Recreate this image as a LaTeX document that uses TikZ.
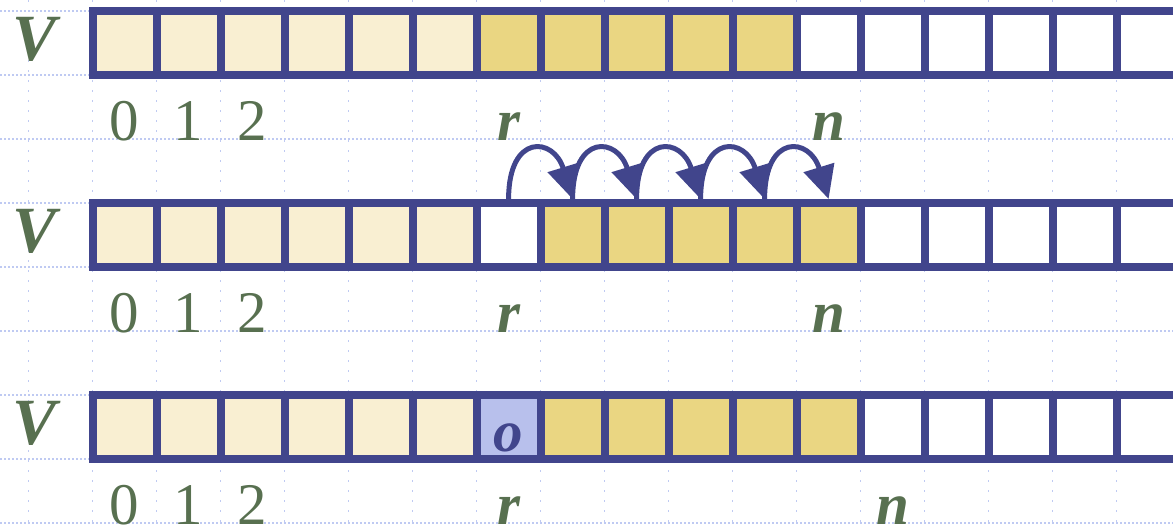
\documentclass[tikz,border=0pt]{standalone}
\usepackage{fontspec}
\setmainfont{Liberation Serif}
\usetikzlibrary{arrows.meta}
\definecolor{navy}{HTML}{41458C}
\definecolor{txtgreen}{HTML}{587050}
\definecolor{cream}{HTML}{F9EFD2}
\definecolor{gold}{HTML}{EAD682}
\definecolor{lav}{HTML}{B8C0EC}
\definecolor{gridc}{HTML}{BFCAF2}
\begin{document}
\begin{tikzpicture}[x=1pt,y=-1pt,
  cell/.style={draw=navy,line width=8pt,minimum size=64pt,inner sep=0pt},
  gridv/.style={gridc,line width=1.6pt,dash pattern=on 2pt off 8pt},
  gridh/.style={gridc,line width=1.6pt,dash pattern=on 2pt off 2pt},
  lab/.style={text=txtgreen,font=\fontsize{59}{60}\selectfont,inner sep=0pt,anchor=base},
  var/.style={text=txtgreen,font=\fontsize{59}{60}\selectfont\bfseries\itshape,inner sep=0pt,anchor=base},
  bigv/.style={text=txtgreen,font=\fontsize{66}{66}\selectfont\bfseries\itshape,inner sep=0pt,anchor=base},
  shiftarrow/.style={draw=navy,line width=5pt,-{Triangle[length=33pt,width=31pt]}}]
\useasboundingbox (0,0) rectangle (1173,528);
\clip (0,0) rectangle (1173,528);
% background grid
\foreach \i in {0,...,18} \draw[gridv] ({28.6+64*\i},0) -- ({28.6+64*\i},528);
\foreach \j in {0,...,8} \draw[gridh] (0,{11+64*\j}) -- (1173,{11+64*\j});
% row 1
\foreach \k in {0,...,5} \node[cell,fill=cream] (a1c\k) at ({124.6+64*\k},43) {};
\foreach \k in {6,...,10} \node[cell,fill=gold] (a1c\k) at ({124.6+64*\k},43) {};
\foreach \k in {11,...,16} \node[cell,fill=white] (a1c\k) at ({124.6+64*\k},43) {};
% row 2
\foreach \k in {0,...,5} \node[cell,fill=cream] (a2c\k) at ({124.6+64*\k},235) {};
\node[cell,fill=white] (a2c6) at ({124.6+64*6},235) {};
\foreach \k in {7,...,11} \node[cell,fill=gold] (a2c\k) at ({124.6+64*\k},235) {};
\foreach \k in {12,...,16} \node[cell,fill=white] (a2c\k) at ({124.6+64*\k},235) {};
% row 3
\foreach \k in {0,...,5} \node[cell,fill=cream] (a3c\k) at ({124.6+64*\k},427) {};
\node[cell,fill=lav] (a3c6) at ({124.6+64*6},427) {};
\foreach \k in {7,...,11} \node[cell,fill=gold] (a3c\k) at ({124.6+64*\k},427) {};
\foreach \k in {12,...,16} \node[cell,fill=white] (a3c\k) at ({124.6+64*\k},427) {};
\node[var,text=navy] (oval) at ({124.6+64*6},451) {o};
% arrows
\foreach \a/\b in {6/7,7/8,8/9,9/10,10/11}
  \draw[shiftarrow] (a2c\a.north) .. controls +(0,-66) and +(-19,-62) .. (a2c\b.north);
% labels
\foreach \r/\yb/\yv/\nk in {1/140/60/11,2/332/252/11,3/524/444/12} {
  \node[bigv] (v\r) at (35,\yv) {V};
  \node[lab] (d\r a) at (124.6,\yb) {0};
  \node[lab] (d\r b) at (188.6,\yb) {1};
  \node[lab] (d\r c) at (252.6,\yb) {2};
  \node[var] (r\r) at (508.6,\yb) {r};
  \node[var] (n\r) at ({124.6+64*\nk},\yb) {n};
}
\end{tikzpicture}
\end{document}
